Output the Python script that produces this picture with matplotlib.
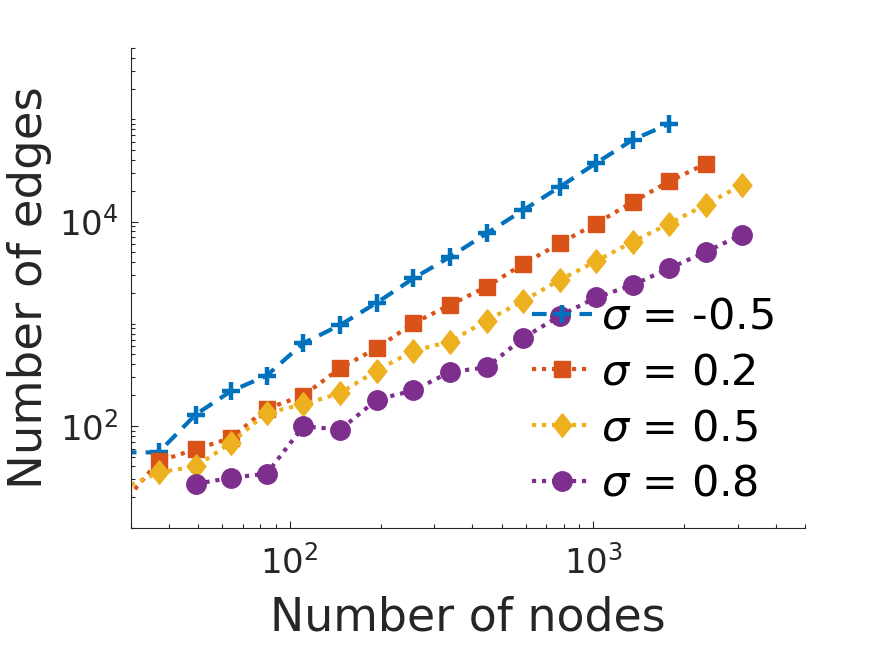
import numpy as np
import matplotlib
matplotlib.use("Agg")
import matplotlib.pyplot as plt
import matplotlib.ticker as ticker

# number of nodes (first value lies left of the x range and is clipped)
nodes = [28, 37, 49, 64, 84, 111, 147, 194, 256, 338, 446, 588, 776, 1024, 1351, 1783, 2353, 3104]

# number of edges for each sigma
edges_m05 = [55, 55, 129, 218, 310, 645, 973, 1607, 2780, 4514, 7640, 12890, 21760, 37300, 63100, 90400]
edges_02 = [17, 45, 59, 76, 147, 198, 368, 577, 1012, 1526, 2301, 3831, 6100, 9550, 15520, 24700, 36800]
edges_05 = [24, 35, 40, 68, 134, 162, 210, 348, 543, 668, 1072, 1669, 2673, 4100, 6324, 9550, 14650, 22960]
edges_08 = [27, 31, 34, 99, 92, 181, 222, 337, 373, 722, 1191, 1806, 2389, 3475, 5047, 7465]

labels = [r"$\sigma$ = -0.5", r"$\sigma$ = 0.2", r"$\sigma$ = 0.5", r"$\sigma$ = 0.8"]

# matlab default colours
c_blue = "#0072BD"
c_orange = "#D95319"
c_yellow = "#EDB120"
c_purple = "#7E2F8E"
axis_col = "#262626"

# tall diamond like matlab
diamond = [(0, 1), (0.8, 0), (0, -1), (-0.8, 0), (0, 1)]

fig = plt.figure(figsize=(8.91, 6.45), dpi=100)
ax = fig.add_axes([0.147, 0.1814, 0.7565, 0.7442])

ax.plot(nodes[:len(edges_m05)], edges_m05, linestyle=(0, (3.5, 2.2)), color=c_blue, linewidth=3,
        marker="+", markersize=13, markeredgewidth=3.2, label=labels[0])
ax.plot(nodes[:len(edges_02)], edges_02, linestyle=(0, (1, 1.4)), color=c_orange, linewidth=3,
        marker="s", markersize=12, label=labels[1])
ax.plot(nodes[:len(edges_05)], edges_05, linestyle=(0, (1, 1.4)), color=c_yellow, linewidth=3,
        marker=diamond, markersize=17, label=labels[2])
ax.plot(nodes[2:2 + len(edges_08)], edges_08, linestyle=(0, (1, 1.4)), color=c_purple, linewidth=3,
        marker="o", markersize=14, label=labels[3])

ax.set_xscale("log")
ax.set_yscale("log")
ax.set_xlim(30, 5000)
ax.set_ylim(10, 5e5)

# ticks like matlab: inside, labels every other decade on y
ax.xaxis.set_major_locator(ticker.FixedLocator([1e2, 1e3]))
ax.xaxis.set_minor_locator(ticker.LogLocator(base=10, subs=np.arange(1, 10), numticks=20))
ax.yaxis.set_major_locator(ticker.FixedLocator([1e2, 1e4]))
ax.yaxis.set_minor_locator(ticker.LogLocator(base=10, subs=np.arange(1, 10), numticks=20))
ax.xaxis.set_minor_formatter(ticker.NullFormatter())
ax.yaxis.set_minor_formatter(ticker.NullFormatter())
ax.xaxis.set_major_formatter(ticker.LogFormatterSciNotation())
ax.yaxis.set_major_formatter(ticker.LogFormatterSciNotation())

ax.tick_params(which="both", direction="in", colors=axis_col, width=0.8)
ax.tick_params(which="major", length=4.8, labelsize=24.5)
ax.tick_params(which="minor", length=3)
ax.tick_params(axis="x", which="major", pad=12)
ax.tick_params(axis="y", which="major", pad=9)

ax.spines["top"].set_visible(False)
ax.spines["right"].set_visible(False)
ax.spines["left"].set_color(axis_col)
ax.spines["bottom"].set_color(axis_col)
ax.spines["left"].set_linewidth(0.8)
ax.spines["bottom"].set_linewidth(0.8)

ax.set_xlabel("Number of nodes", fontsize=33, color=axis_col, labelpad=11)
ax.set_ylabel("Number of edges", fontsize=33.5, color=axis_col, labelpad=5)

leg = ax.legend(loc="center left", bbox_to_anchor=(0.595, 0.266), frameon=False,
                fontsize=31, handlelength=1.4, handletextpad=0.2, labelspacing=0.32,
                borderpad=0, borderaxespad=0, numpoints=1)

fig.savefig("out.png", dpi=100)
